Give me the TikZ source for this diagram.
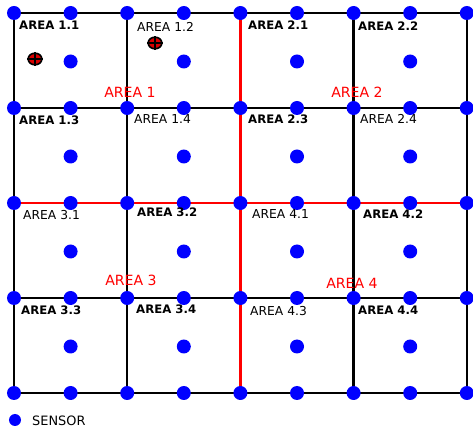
\documentclass[tikz,border=0pt]{standalone}
\usepackage{fontspec}
\setmainfont{DejaVu Sans}
\usetikzlibrary{shapes.geometric}

\tikzset{
  sensor/.style={circle, fill=blue, minimum size=4.2mm, inner sep=0pt},
  gridline/.style={line width=2.2pt},
  arealine/.style={line width=2.2pt, red},
  cell/.style={anchor=north west, inner sep=0pt, font=\fontsize{10.5}{12}\selectfont},
  cellb/.style={cell, font=\fontsize{10}{12}\selectfont\bfseries},
  area/.style={red, inner sep=0pt, font=\fontsize{12}{14}\selectfont},
  target/.style={ellipse, draw, line width=1.4pt, fill=red!85!black,
                 minimum width=4.1mm, minimum height=3.5mm, inner sep=0pt}
}

\begin{document}
\begin{tikzpicture}[x=0.03cm, y=-0.03cm]
  \useasboundingbox (0,0) rectangle (473,430);

  % points on the horizontal lines
  \foreach \r in {0,...,4}
    \foreach \k in {0,...,8}
      \coordinate (g-\r-\k) at ({14+56.6*\k}, {13+95*\r});

  % cell borders
  \foreach \r in {0,1,3,4}
    \draw[gridline] (g-\r-0) -- (g-\r-8);
  \foreach \k in {0,2,6,8}
    \draw[gridline] (g-0-\k) -- (g-4-\k);
  % area borders
  \draw[arealine] (g-2-0) -- (g-2-8);
  \draw[arealine] (g-0-4) -- (g-4-4);

  % sensors
  \foreach \r in {0,...,4}
    \foreach \k in {0,...,8}
      \node[sensor] (s-\r-\k) at (g-\r-\k) {};
  \foreach \r in {0,...,3}
    \foreach \c in {0,...,3}
      \node[sensor] (m-\r-\c) at ({14+56.6*(2*\c+1)}, {61.5+95*\r}) {};

  % cell names
  \foreach \a/\b/\x/\y in {1/1/19/21, 1/3/19/116, 2/1/248/21, 2/2/358/22,
                           2/3/248/115, 3/2/137/208, 3/3/21/306, 3/4/136/305,
                           4/2/363/210, 4/4/358/306}
    \node[cellb] (l-\a-\b) at (\x,\y) {AREA \a.\b};
  \foreach \a/\b/\x/\y in {1/2/137/22, 1/4/134/114, 2/4/360/114,
                           3/1/23/210, 4/1/252/209, 4/3/250/306}
    \node[cell] (l-\a-\b) at (\x,\y) {AREA \a.\b};

  % area names
  \foreach \n/\x/\y in {1/130/92, 2/357/92, 3/131/280, 4/352/283}
    \node[area] (a-\n) at (\x,\y) {AREA \n};

  % targets
  \foreach \n/\x/\y in {1/35/59, 2/155/43} {
    \node[target] (t-\n) at (\x,\y) {};
    \draw[line width=0.9pt] (t-\n.north) -- (t-\n.south) (t-\n.west) -- (t-\n.east);
  }

  % legend
  \node[sensor, minimum size=3.6mm] (key) at (15,420) {};
  \node[anchor=west, inner sep=0pt, font=\fontsize{11}{13}\selectfont]
    (key-text) at (32,421) {SENSOR};
\end{tikzpicture}
\end{document}
